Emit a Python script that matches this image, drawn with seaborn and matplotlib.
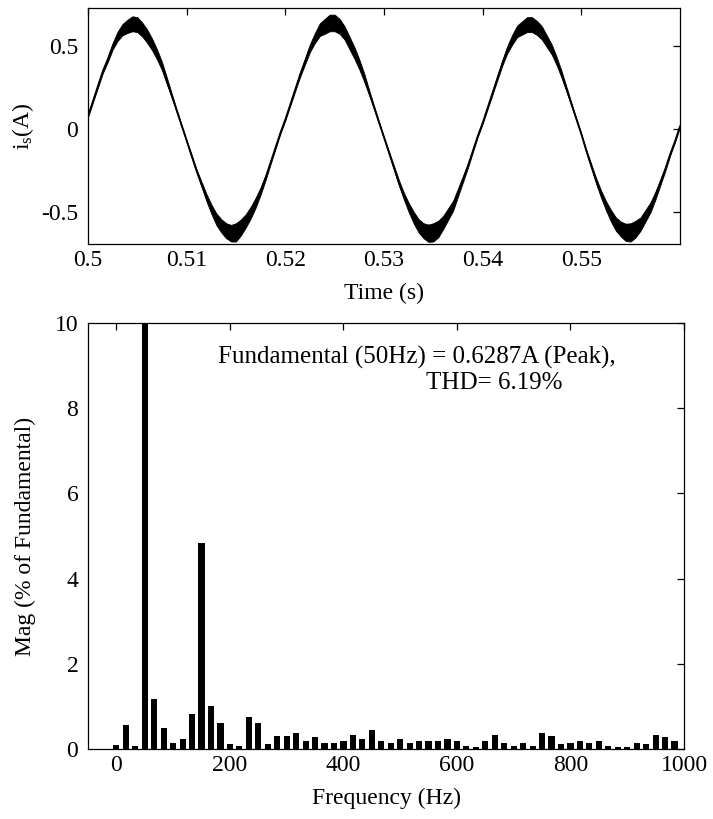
import matplotlib
matplotlib.use("Agg")
import matplotlib.pyplot as plt
import seaborn as sns
import pandas as pd

# ============================
# Dados
# ============================
# Corrente da fonte i_s (A), amostrada a cada 0.5 ms
tempo = [0.5000, 0.5005, 0.5010, 0.5015, 0.5020, 0.5025, 0.5030, 0.5035, 0.5040, 0.5045,
         0.5050, 0.5055, 0.5060, 0.5065, 0.5070, 0.5075, 0.5080, 0.5085, 0.5090, 0.5095,
         0.5100, 0.5105, 0.5110, 0.5115, 0.5120, 0.5125, 0.5130, 0.5135, 0.5140, 0.5145,
         0.5150, 0.5155, 0.5160, 0.5165, 0.5170, 0.5175, 0.5180, 0.5185, 0.5190, 0.5195,
         0.5200, 0.5205, 0.5210, 0.5215, 0.5220, 0.5225, 0.5230, 0.5235, 0.5240, 0.5245,
         0.5250, 0.5255, 0.5260, 0.5265, 0.5270, 0.5275, 0.5280, 0.5285, 0.5290, 0.5295,
         0.5300, 0.5305, 0.5310, 0.5315, 0.5320, 0.5325, 0.5330, 0.5335, 0.5340, 0.5345,
         0.5350, 0.5355, 0.5360, 0.5365, 0.5370, 0.5375, 0.5380, 0.5385, 0.5390, 0.5395,
         0.5400, 0.5405, 0.5410, 0.5415, 0.5420, 0.5425, 0.5430, 0.5435, 0.5440, 0.5445,
         0.5450, 0.5455, 0.5460, 0.5465, 0.5470, 0.5475, 0.5480, 0.5485, 0.5490, 0.5495,
         0.5500, 0.5505, 0.5510, 0.5515, 0.5520, 0.5525, 0.5530, 0.5535, 0.5540, 0.5545,
         0.5550, 0.5555, 0.5560, 0.5565, 0.5570, 0.5575, 0.5580, 0.5585, 0.5590, 0.5595,
         0.5600]
corrente = [0.08, 0.17, 0.26, 0.35, 0.42, 0.50, 0.56, 0.60, 0.62, 0.635,
            0.63, 0.60, 0.56, 0.51, 0.45, 0.38, 0.29, 0.20, 0.11, 0.02,
            -0.07, -0.16, -0.25, -0.33, -0.41, -0.48, -0.54, -0.58, -0.61, -0.625,
            -0.62, -0.59, -0.55, -0.50, -0.44, -0.37, -0.29, -0.20, -0.11, -0.02,
            0.06, 0.15, 0.24, 0.33, 0.41, 0.49, 0.55, 0.60, 0.62, 0.64,
            0.64, 0.62, 0.58, 0.52, 0.46, 0.39, 0.31, 0.22, 0.13, 0.04,
            -0.05, -0.14, -0.23, -0.32, -0.40, -0.47, -0.53, -0.58, -0.61, -0.625,
            -0.62, -0.60, -0.56, -0.51, -0.46, -0.38, -0.30, -0.22, -0.13, -0.04,
            0.04, 0.13, 0.22, 0.31, 0.40, 0.48, 0.54, 0.59, 0.61, 0.63,
            0.63, 0.61, 0.58, 0.53, 0.48, 0.41, 0.33, 0.24, 0.15, 0.06,
            -0.03, -0.13, -0.22, -0.31, -0.39, -0.46, -0.52, -0.57, -0.60, -0.62,
            -0.62, -0.60, -0.57, -0.52, -0.47, -0.40, -0.32, -0.24, -0.15, -0.07,
            0.02]
# meia largura da faixa de ruído de chaveamento
ruido = [0.006, 0.008, 0.010, 0.012, 0.015, 0.020, 0.028, 0.034, 0.040, 0.045,
         0.045, 0.042, 0.040, 0.035, 0.030, 0.025, 0.020, 0.012, 0.008, 0.006,
         0.006, 0.008, 0.010, 0.015, 0.022, 0.028, 0.035, 0.040, 0.045, 0.050,
         0.055, 0.048, 0.040, 0.035, 0.030, 0.022, 0.015, 0.010, 0.008, 0.006,
         0.006, 0.008, 0.010, 0.014, 0.018, 0.024, 0.030, 0.038, 0.045, 0.050,
         0.050, 0.045, 0.040, 0.038, 0.035, 0.030, 0.025, 0.015, 0.010, 0.006,
         0.006, 0.009, 0.012, 0.016, 0.020, 0.028, 0.035, 0.040, 0.045, 0.052,
         0.055, 0.050, 0.040, 0.035, 0.030, 0.024, 0.018, 0.012, 0.008, 0.006,
         0.006, 0.008, 0.010, 0.012, 0.015, 0.022, 0.030, 0.035, 0.040, 0.045,
         0.045, 0.042, 0.040, 0.035, 0.030, 0.025, 0.020, 0.014, 0.008, 0.006,
         0.006, 0.009, 0.012, 0.016, 0.022, 0.028, 0.035, 0.040, 0.045, 0.052,
         0.055, 0.050, 0.040, 0.035, 0.030, 0.024, 0.018, 0.012, 0.008, 0.006,
         0.006]

# Espectro (FFT de 3 ciclos, resolução 16.67 Hz)
frequencia = [0, 16.67, 33.33, 50, 66.67, 83.33, 100, 116.67, 133.33, 150,
              166.67, 183.33, 200, 216.67, 233.33, 250, 266.67, 283.33, 300, 316.67,
              333.33, 350, 366.67, 383.33, 400, 416.67, 433.33, 450, 466.67, 483.33,
              500, 516.67, 533.33, 550, 566.67, 583.33, 600, 616.67, 633.33, 650,
              666.67, 683.33, 700, 716.67, 733.33, 750, 766.67, 783.33, 800, 816.67,
              833.33, 850, 866.67, 883.33, 900, 916.67, 933.33, 950, 966.67, 983.33]
magnitude = [0.10, 0.56, 0.07, 100, 1.17, 0.49, 0.15, 0.23, 0.82, 4.84,
             1.02, 0.60, 0.12, 0.08, 0.75, 0.60, 0.11, 0.30, 0.30, 0.38,
             0.19, 0.27, 0.15, 0.15, 0.19, 0.34, 0.23, 0.45, 0.19, 0.15,
             0.23, 0.15, 0.19, 0.19, 0.19, 0.23, 0.19, 0.08, 0.04, 0.19,
             0.34, 0.15, 0.08, 0.15, 0.08, 0.38, 0.30, 0.11, 0.15, 0.19,
             0.15, 0.19, 0.08, 0.04, 0.04, 0.15, 0.11, 0.34, 0.27, 0.19]

ticks_tempo = [0.50, 0.51, 0.52, 0.53, 0.54, 0.55]
rotulos_tempo = ['0.5', '0.51', '0.52', '0.53', '0.54', '0.55']
ticks_corrente = [-0.5, 0, 0.5]
rotulos_corrente = ['-0.5', '0', '0.5']
ticks_freq = [0, 200, 400, 600, 800, 1000]
ticks_mag = [0, 2, 4, 6, 8, 10]

texto_fund = 'Fundamental (50Hz) = 0.6287A (Peak),'
texto_thd = 'THD= 6.19%'

# ============================
# Estilo
# ============================
sns.set_style('white')
plt.rcParams['font.family'] = ['Liberation Serif', 'DejaVu Serif']
plt.rcParams['mathtext.fontset'] = 'custom'
plt.rcParams['mathtext.rm'] = 'Liberation Serif'
plt.rcParams['mathtext.it'] = 'Liberation Serif'
plt.rcParams['axes.unicode_minus'] = False
plt.rcParams['font.size'] = 17
plt.rcParams['axes.edgecolor'] = 'black'
plt.rcParams['axes.linewidth'] = 0.9
plt.rcParams['text.color'] = 'black'
plt.rcParams['axes.labelcolor'] = 'black'
plt.rcParams['xtick.color'] = 'black'
plt.rcParams['ytick.color'] = 'black'

fig = plt.figure(figsize=(7.13, 8.19), dpi=100)
W, H = 713, 819
ax1 = fig.add_axes([88 / W, 1 - 244 / H, (680 - 88) / W, (244 - 8) / H])
ax2 = fig.add_axes([88 / W, 1 - 749 / H, (684 - 88) / W, (749 - 323) / H])

# ============================
# Painel superior – corrente da fonte
# ============================
df_i = pd.DataFrame({'t': tempo, 'i': corrente, 'r': ruido})
ax1.fill_between(df_i['t'], df_i['i'] - df_i['r'], df_i['i'] + df_i['r'],
                 color='black', linewidth=0.6)
sns.lineplot(data=df_i, x='t', y='i', color='black', linewidth=1.2, ax=ax1)
ax1.set_xlim(0.5, 0.56)
ax1.set_ylim(-0.69, 0.73)
ax1.set_xticks(ticks_tempo)
ax1.set_xticklabels(rotulos_tempo)
ax1.set_yticks(ticks_corrente)
ax1.set_yticklabels(rotulos_corrente)
ax1.set_xlabel('Time (s)')
ax1.set_ylabel(r'i$_{\mathrm{s}}$(A)')
ax1.xaxis.set_label_coords(0.5, -0.165)
ax1.yaxis.set_label_coords(-0.088, 0.5)

# ============================
# Painel inferior – espectro harmônico
# ============================
df_f = pd.DataFrame({'f': frequencia, 'm': magnitude})
sns.barplot(data=df_f, x='f', y='m', native_scale=True, width=0.65,
            color='black', saturation=1, errorbar=None, linewidth=0, ax=ax2)
ax2.set_xlim(-50, 1000)
ax2.set_ylim(0, 10)
ax2.set_xticks(ticks_freq)
ax2.set_xticklabels([str(v) for v in ticks_freq])
ax2.set_yticks(ticks_mag)
ax2.set_yticklabels([str(v) for v in ticks_mag])
ax2.set_xlabel('Frequency (Hz)')
ax2.set_ylabel('Mag (% of Fundamental)')
ax2.xaxis.set_label_coords(0.5, -0.092)
ax2.yaxis.set_label_coords(-0.088, 0.5)
ax2.text(530, 9.2, texto_fund, ha='center', va='center', fontsize=18)
ax2.text(665, 8.59, texto_thd, ha='center', va='center', fontsize=18)

for ax in (ax1, ax2):
    for s in ax.spines.values():
        s.set_visible(True)
        s.set_color('black')
    ax.tick_params(direction='in', length=5, width=0.9, top=True, right=True,
                   labelsize=17, pad=4)
    ax.tick_params(axis='y', pad=7)
    ax.grid(False)

plt.savefig('out.png', dpi=100)
plt.close()
